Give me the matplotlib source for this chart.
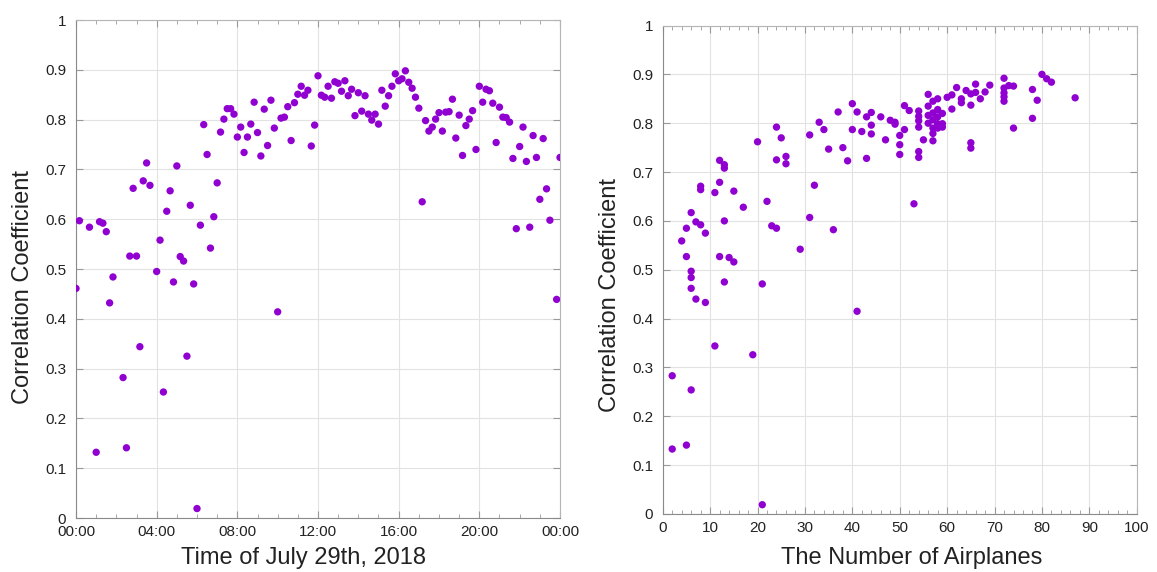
import matplotlib
matplotlib.use('Agg')
import matplotlib.pyplot as plt
from matplotlib.ticker import MultipleLocator, FixedLocator
import numpy as np

plt.rcParams['font.family'] = ['Liberation Sans', 'DejaVu Sans']

# correlation vs time of day (minutes after midnight)
minutes = [0, 10, 40, 60, 70, 80, 90, 100, 110, 140, 150, 160, 170, 180, 190, 200,
           210, 220, 240, 250, 260, 270, 280, 290, 300, 310, 320, 330, 340, 350, 360,
           370, 380, 390, 400, 410, 420, 430, 440, 450, 460, 470, 480, 490, 500, 510,
           520, 530, 540, 550, 560, 570, 580, 590, 600, 610, 620, 630, 640, 650, 660,
           670, 680, 690, 700, 710, 720, 730, 740, 750, 760, 770, 780, 790, 800, 810,
           820, 830, 840, 850, 860, 870, 880, 890, 900, 910, 920, 930, 940, 950, 960,
           970, 980, 990, 1000, 1010, 1020, 1030, 1040, 1050, 1060, 1070, 1080, 1090,
           1100, 1110, 1120, 1130, 1140, 1150, 1160, 1170, 1180, 1190, 1200, 1210,
           1220, 1230, 1240, 1250, 1260, 1270, 1280, 1290, 1300, 1310, 1320, 1330,
           1340, 1350, 1360, 1370, 1380, 1390, 1400, 1410, 1430, 1440]
corr_time = [0.461, 0.597, 0.584, 0.132, 0.595, 0.592, 0.575, 0.432, 0.484, 0.282,
             0.141, 0.526, 0.662, 0.526, 0.344, 0.677, 0.713, 0.668, 0.495, 0.558,
             0.253, 0.616, 0.657, 0.474, 0.707, 0.525, 0.516, 0.325, 0.628, 0.470,
             0.019, 0.588, 0.790, 0.730, 0.542, 0.605, 0.673, 0.775, 0.801, 0.822,
             0.822, 0.811, 0.765, 0.785, 0.734, 0.765, 0.791, 0.835, 0.774, 0.727,
             0.821, 0.748, 0.839, 0.783, 0.414, 0.803, 0.805, 0.826, 0.758, 0.834,
             0.851, 0.867, 0.849, 0.859, 0.747, 0.789, 0.888, 0.849, 0.845, 0.867,
             0.843, 0.876, 0.873, 0.857, 0.878, 0.848, 0.861, 0.808, 0.854, 0.817,
             0.848, 0.811, 0.799, 0.811, 0.791, 0.859, 0.827, 0.848, 0.867, 0.892,
             0.878, 0.882, 0.898, 0.875, 0.863, 0.845, 0.823, 0.635, 0.798, 0.777,
             0.785, 0.801, 0.814, 0.777, 0.815, 0.816, 0.841, 0.763, 0.809, 0.728,
             0.788, 0.801, 0.818, 0.740, 0.867, 0.835, 0.861, 0.858, 0.833, 0.754,
             0.825, 0.805, 0.804, 0.795, 0.722, 0.581, 0.746, 0.785, 0.716, 0.584,
             0.768, 0.724, 0.640, 0.762, 0.661, 0.598, 0.439, 0.724]

# correlation vs number of airplanes
airplanes = [2, 2, 4, 5, 5, 5, 6, 6, 6, 6, 6, 7, 7, 8, 8, 8, 9, 9, 11, 11, 12, 12, 12,
             13, 13, 13, 13, 14, 15, 15, 17, 19, 20, 21, 21, 22, 23, 24, 24, 24, 25,
             26, 26, 29, 31, 31, 32, 33, 34, 35, 36, 37, 38, 39, 40, 40, 41, 41, 42,
             43, 43, 44, 44, 44, 46, 47, 48, 49, 49, 50, 50, 50, 51, 51, 52, 53, 54,
             54, 54, 54, 54, 54, 55, 56, 56, 56, 56, 57, 57, 57, 57, 57, 57, 58, 58,
             58, 58, 58, 59, 59, 59, 60, 61, 61, 62, 63, 63, 64, 65, 65, 65, 65, 66,
             66, 67, 68, 69, 72, 72, 72, 72, 72, 73, 74, 74, 78, 78, 79, 80, 81, 82, 87]
corr_planes = [0.283, 0.133, 0.559, 0.585, 0.527, 0.141, 0.617, 0.497, 0.484, 0.462,
               0.254, 0.598, 0.440, 0.671, 0.664, 0.592, 0.575, 0.433, 0.658, 0.344,
               0.724, 0.679, 0.527, 0.715, 0.708, 0.600, 0.475, 0.525, 0.661, 0.516,
               0.628, 0.326, 0.762, 0.471, 0.019, 0.640, 0.590, 0.792, 0.725, 0.585,
               0.770, 0.732, 0.717, 0.542, 0.776, 0.607, 0.673, 0.802, 0.787, 0.747,
               0.582, 0.823, 0.750, 0.723, 0.840, 0.787, 0.823, 0.415, 0.783, 0.813,
               0.728, 0.822, 0.796, 0.778, 0.813, 0.766, 0.806, 0.802, 0.798, 0.775,
               0.756, 0.736, 0.836, 0.787, 0.826, 0.635, 0.825, 0.814, 0.805, 0.792,
               0.742, 0.730, 0.766, 0.859, 0.835, 0.816, 0.800, 0.845, 0.821, 0.807,
               0.790, 0.779, 0.764, 0.850, 0.828, 0.813, 0.799, 0.790, 0.820, 0.799,
               0.792, 0.853, 0.858, 0.829, 0.873, 0.850, 0.842, 0.867, 0.860, 0.837,
               0.760, 0.749, 0.880, 0.863, 0.850, 0.864, 0.878, 0.892, 0.872, 0.862,
               0.854, 0.845, 0.877, 0.876, 0.790, 0.869, 0.810, 0.847, 0.900, 0.891,
               0.884, 0.852]

time_ticks = [0, 240, 480, 720, 960, 1200, 1440]
time_labels = ['00:00', '04:00', '08:00', '12:00', '16:00', '20:00', '00:00']
y_ticks = [0, 0.1, 0.2, 0.3, 0.4, 0.5, 0.6, 0.7, 0.8, 0.9, 1]
y_labels = ['0', '0.1', '0.2', '0.3', '0.4', '0.5', '0.6', '0.7', '0.8', '0.9', '1']

purple = '#9000d0'
txt = '#222222'

fig = plt.figure(figsize=(11.57, 5.72), dpi=100)
ax1 = fig.add_axes([0.0657, 0.0944, 0.4183, 0.8706])
ax2 = fig.add_axes([0.5728, 0.1014, 0.4097, 0.8540])


def style(ax, ylab_y):
    ax.set_ylim(0, 1)
    ax.set_yticks(y_ticks)
    ax.set_yticklabels(y_labels)
    ax.grid(True, which='major', color='#e2e2e2', linewidth=0.8)
    ax.set_axisbelow(True)
    ax.tick_params(which='both', direction='in', top=True, right=True,
                   colors='#999999', labelcolor=txt, labelsize=11)
    ax.tick_params(which='major', length=5, width=0.8)
    ax.tick_params(which='minor', length=3, width=0.6)
    ax.tick_params(axis='y', pad=7)
    ax.tick_params(axis='x', pad=5)
    for side in ['left', 'bottom']:
        ax.spines[side].set_color('#8a8a8a')
    for side in ['top', 'right']:
        ax.spines[side].set_color('#b5b5b5')
    ax.set_ylabel('Correlation Coefficient', fontsize=17, color=txt, labelpad=8)
    ax.yaxis.label.set_y(ylab_y)


ax1.scatter(minutes, corr_time, s=28, color=purple, edgecolors='none', zorder=3)
ax1.set_xlim(0, 1440)
ax1.xaxis.set_major_locator(FixedLocator(time_ticks))
ax1.set_xticklabels(time_labels)
ax1.xaxis.set_minor_locator(MultipleLocator(60))
style(ax1, 0.464)
ax1.set_xlabel('Time of July 29th, 2018', fontsize=17, color=txt, labelpad=6)
ax1.xaxis.label.set_x(0.47)

ax2.scatter(airplanes, corr_planes, s=28, color=purple, edgecolors='none', zorder=3)
ax2.set_xlim(0, 100)
ax2.xaxis.set_major_locator(MultipleLocator(10))
ax2.xaxis.set_minor_locator(MultipleLocator(2))
style(ax2, 0.448)
ax2.set_xlabel('The Number of Airplanes', fontsize=17, color=txt, labelpad=9)
ax2.xaxis.label.set_x(0.526)

fig.savefig('out.png', dpi=100)
